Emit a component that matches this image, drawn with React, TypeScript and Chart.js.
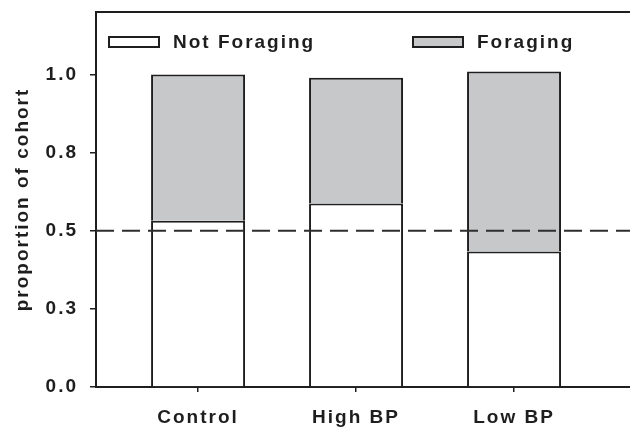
import { useEffect, useRef } from "react";
import { Chart, registerables } from "chart.js";

Chart.register(...registerables);

// ---- data ----
const categories = ["Control", "High BP", "Low BP"];
const categoryPositions = [1, 2, 3];
const seriesLabels = ["Not Foraging", "Foraging"];
const notForaging = [0.532, 0.587, 0.434];
const foraging = [0.468, 0.403, 0.576];
const referenceLevel = 0.5;
const yTickValues = [0, 0.25, 0.5, 0.75, 1.0];
const yTickLabels = ["0.0", "0.3", "0.5", "0.8", "1.0"];
const yTitle = "proportion of cohort";

// ---- axis ranges ----
const X_MIN = 0.354;
const X_MAX = 3.734;
const Y_MIN = 0;
const Y_MAX = 1.2;

const INK = "#1e1e1e";
const GREY = "#c7c8ca";
const FONT = "'Liberation Sans', Arial, sans-serif";
const FONT_SIZE = 19;
const SPACING = "2px";

const spacingPlugin = {
  id: "letterSpacing",
  beforeUpdate(chart: any) {
    chart.ctx.letterSpacing = SPACING;
  },
  beforeLayout(chart: any) {
    chart.ctx.letterSpacing = SPACING;
  },
  beforeDraw(chart: any) {
    chart.ctx.letterSpacing = SPACING;
  },
};

const framePlugin = {
  id: "topFrame",
  afterDraw(chart: any) {
    const { ctx, chartArea } = chart;
    ctx.save();
    ctx.strokeStyle = INK;
    ctx.lineWidth = 2;
    ctx.beginPath();
    ctx.moveTo(chartArea.left - 1, chartArea.top);
    ctx.lineTo(chartArea.right, chartArea.top);
    ctx.stroke();
    ctx.restore();
  },
};

const legendPlugin = {
  id: "insideLegend",
  afterDraw(chart: any) {
    const { ctx, chartArea } = chart;
    const offsets = [12, 316];
    const boxW = 52;
    const boxH = 12;
    const top = chartArea.top + 24;
    ctx.save();
    ctx.letterSpacing = SPACING;
    chart.data.datasets
      .filter((d: any) => d.type !== "line")
      .forEach((d: any, i: number) => {
        const x = chartArea.left + offsets[i];
        ctx.fillStyle = d.backgroundColor;
        ctx.fillRect(x, top, boxW, boxH);
        ctx.strokeStyle = INK;
        ctx.lineWidth = 2;
        ctx.strokeRect(x + 1, top + 1, boxW - 2, boxH - 2);
        ctx.fillStyle = INK;
        ctx.font = `bold ${FONT_SIZE}px ${FONT}`;
        ctx.textAlign = "left";
        ctx.textBaseline = "middle";
        ctx.fillText(d.label, x + boxW + 13, top + boxH / 2 + 1);
      });
    ctx.restore();
  },
};

export default function App() {
  const ref = useRef<HTMLCanvasElement>(null);

  useEffect(() => {
    const canvas = ref.current;
    if (!canvas) return;
    const tickFont = { family: FONT, size: FONT_SIZE, weight: "bold" as const };

    const chart = new Chart(canvas, {
      type: "bar",
      data: {
        datasets: [
          {
            type: "bar",
            label: seriesLabels[0],
            data: categoryPositions.map((x, i) => ({ x, y: notForaging[i] })),
            backgroundColor: "#ffffff",
            borderColor: INK,
            borderWidth: 2,
            borderSkipped: "start",
            barPercentage: 0.595,
            categoryPercentage: 1,
            order: 1,
          },
          {
            type: "bar",
            label: seriesLabels[1],
            data: categoryPositions.map((x, i) => ({ x, y: foraging[i] })),
            backgroundColor: GREY,
            borderColor: INK,
            borderWidth: 2,
            borderSkipped: "start",
            barPercentage: 0.595,
            categoryPercentage: 1,
            order: 2,
          },
          {
            type: "line",
            label: "reference",
            stack: "ref",
            data: [
              { x: X_MIN, y: referenceLevel },
              { x: X_MAX, y: referenceLevel },
            ],
            borderColor: "#2e2e2e",
            borderWidth: 2,
            borderDash: [18, 8],
            pointRadius: 0,
            fill: false,
            order: 0,
          },
        ] as any,
      },
      options: {
        responsive: false,
        animation: false,
        layout: { padding: { top: 12, left: 0, right: 0, bottom: 0 } },
        plugins: {
          legend: { display: false },
          tooltip: { enabled: false },
        },
        scales: {
          x: {
            type: "linear",
            stacked: true,
            min: X_MIN,
            max: X_MAX,
            offset: false,
            afterBuildTicks: (s: any) => {
              s.ticks = categoryPositions.map((v) => ({ value: v }));
            },
            afterFit: (s: any) => {
              s.height = 44;
              s.paddingLeft = 0;
              s.paddingRight = 0;
            },
            grid: {
              display: true,
              offset: false,
              drawOnChartArea: false,
              drawTicks: true,
              tickLength: 5,
              color: INK,
              lineWidth: 1.5,
            },
            border: { display: true, color: INK, width: 2 },
            ticks: {
              font: tickFont,
              color: INK,
              padding: 14,
              maxRotation: 0,
              autoSkip: false,
              callback: (v: any) => {
                const i = categoryPositions.indexOf(Number(v));
                return i >= 0 ? categories[i] : "";
              },
            },
          },
          y: {
            type: "linear",
            stacked: true,
            min: Y_MIN,
            max: Y_MAX,
            afterBuildTicks: (s: any) => {
              s.ticks = yTickValues.map((v) => ({ value: v }));
            },
            afterFit: (s: any) => {
              s.width = 96;
              s.paddingTop = 0;
              s.paddingBottom = 0;
            },
            grid: {
              display: true,
              drawOnChartArea: false,
              drawTicks: true,
              tickLength: 6,
              color: INK,
              lineWidth: 1.5,
            },
            border: { display: true, color: INK, width: 2 },
            ticks: {
              font: tickFont,
              color: INK,
              padding: 12,
              callback: (v: any) => {
                const i = yTickValues.indexOf(Number(v));
                return i >= 0 ? yTickLabels[i] : "";
              },
            },
            title: {
              display: true,
              text: yTitle,
              font: tickFont,
              color: INK,
              padding: { top: 11, bottom: 0 },
            },
          },
        },
      },
      plugins: [spacingPlugin, framePlugin, legendPlugin],
    });

    return () => chart.destroy();
  }, []);

  return (
    <div style={{ position: "absolute", left: 0, top: 0, width: 630, height: 431, background: "#ffffff" }}>
      <canvas ref={ref} width={630} height={431} style={{ display: "block" }} />
    </div>
  );
}
